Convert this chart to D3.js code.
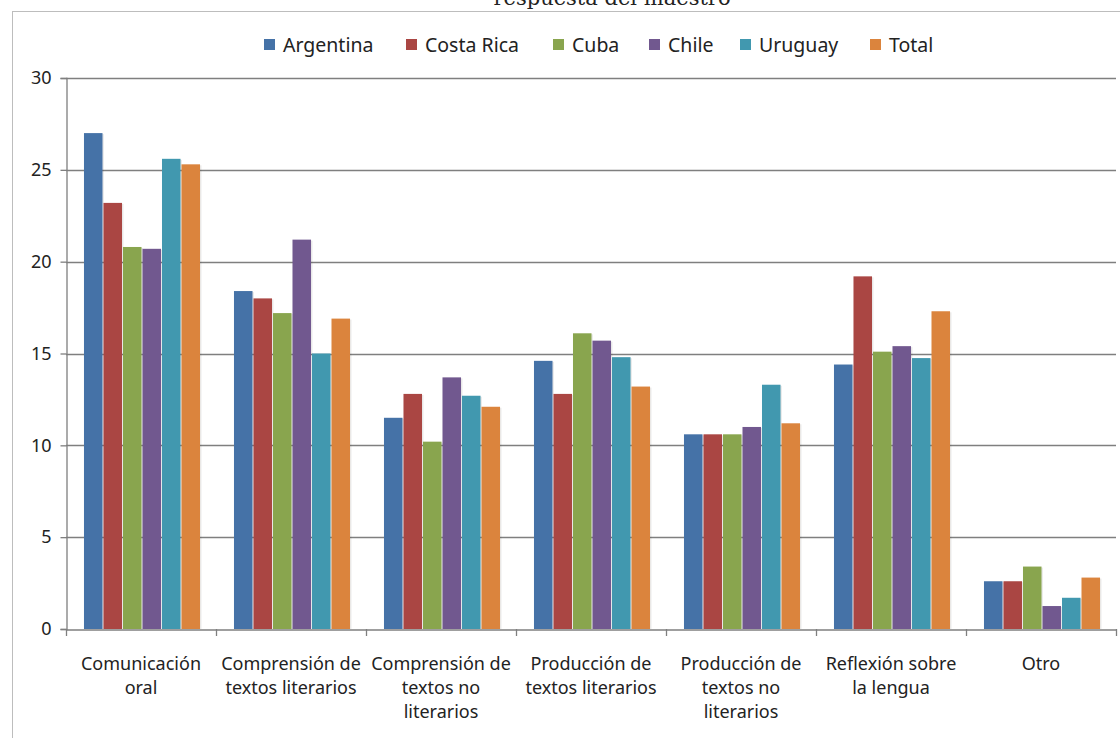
<!DOCTYPE html>
<html><head><meta charset="utf-8">
<script src="https://cdn.jsdelivr.net/npm/d3@7"></script>
<style>body{margin:0;background:#fff}svg{display:block}</style>
</head><body>
<svg id="c" width="1120" height="738"></svg>
<script>
const categories = [
  ["Comunicación","oral"],
  ["Comprensión de","textos literarios"],
  ["Comprensión de","textos no","literarios"],
  ["Producción de","textos literarios"],
  ["Producción de","textos no","literarios"],
  ["Reflexión sobre","la lengua"],
  ["Otro"]
];
const seriesNames = ["Argentina","Costa Rica","Cuba","Chile","Uruguay","Total"];
const argentina = [27.0, 18.4, 11.5, 14.6, 10.6, 14.4, 2.6];
const costaRica = [23.2, 18.0, 12.8, 12.8, 10.6, 19.2, 2.6];
const cuba      = [20.8, 17.2, 10.2, 16.1, 10.6, 15.1, 3.4];
const chile     = [20.7, 21.2, 13.7, 15.7, 11.0, 15.4, 1.25];
const uruguay   = [25.6, 15.0, 12.7, 14.8, 13.3, 14.75, 1.7];
const total     = [25.3, 16.9, 12.1, 13.2, 11.2, 17.3, 2.8];
const yTicks = [0,5,10,15,20,25,30];
const colors = ["#4572A7","#AA4643","#89A54E","#71588F","#4198AF","#DB843D"];
const title = "respuesta del maestro";

const seriesValues = [argentina,costaRica,cuba,chile,uruguay,total];
const svg = d3.select("#c");
const font = "'Noto Sans', 'Open Sans', sans-serif";

// frame
svg.append("rect").attr("x",12.5).attr("y",11.5).attr("width",1130).attr("height",740)
  .attr("fill","none").attr("stroke","#bdbdbd").attr("stroke-width",1);

// title (cut off at top, as in the reference)
svg.append("text").attr("x",612).attr("y",5).attr("text-anchor","middle")
  .attr("font-family","'DejaVu Serif', 'Liberation Serif', serif").attr("font-size",21)
  .attr("fill","#222").text(title);

const x0 = d3.scaleBand().domain(d3.range(categories.length)).range([66,1116]).paddingInner(0).paddingOuter(0);
const x1 = d3.scaleBand().domain(d3.range(seriesNames.length)).range([17, 150-15]).padding(0.05);
const y = d3.scaleLinear().domain([0,30]).range([629,78]);

// gridlines
svg.append("g").selectAll("line").data(yTicks.filter(d=>d>0)).join("line")
  .attr("x1",66).attr("x2",1116).attr("y1",d=>Math.round(y(d))+0.5).attr("y2",d=>Math.round(y(d))+0.5)
  .attr("stroke","#7f7f7f").attr("stroke-width",1.3);

// y axis
const yAxis = d3.axisLeft(y).tickValues(yTicks).tickSize(6).tickPadding(9);
const gy = svg.append("g").attr("transform","translate(66.5,0)").call(yAxis);
gy.select(".domain").attr("stroke","#7f7f7f").attr("stroke-width",1.3);
gy.selectAll(".tick line").attr("stroke","#7f7f7f").attr("stroke-width",1.3);
gy.selectAll(".tick text").attr("font-family",font).attr("font-size",18).attr("fill","#222");

// bars
const groups = svg.append("g").selectAll("g").data(categories).join("g")
  .attr("transform",(d,i)=>`translate(${x0(i)},0)`);
groups.each(function(c,ci){
  const g = d3.select(this);
  seriesValues.forEach((vals,si)=>{
    g.append("rect").attr("x",x1(si)+1.5).attr("y",y(vals[ci])+1)
      .attr("width",x1.bandwidth()).attr("height",y(0)-y(vals[ci])-1)
      .attr("fill","#000").attr("opacity",0.08);
    g.append("rect").attr("x",x1(si)).attr("y",y(vals[ci]))
      .attr("width",x1.bandwidth()).attr("height",y(0)-y(vals[ci]))
      .attr("fill",colors[si]);
  });
});

// x axis
const xAxis = d3.axisBottom(x0).tickSize(0).tickFormat("");
const gx = svg.append("g").attr("transform","translate(0,629.5)").call(xAxis);
gx.select(".domain").attr("stroke","#7f7f7f").attr("stroke-width",1.3);
svg.append("g").selectAll("line").data(d3.range(categories.length+1)).join("line")
  .attr("x1",i=>Math.round(66+i*x0.step())+0.5).attr("x2",i=>Math.round(66+i*x0.step())+0.5)
  .attr("y1",629).attr("y2",636).attr("stroke","#7f7f7f").attr("stroke-width",1.3);

// category labels
const lab = svg.append("g").selectAll("text").data(categories).join("text")
  .attr("font-family",font).attr("font-size",18).attr("fill","#222").attr("text-anchor","middle");
lab.each(function(lines,i){
  const t = d3.select(this);
  lines.forEach((ln,k)=>{
    t.append("tspan").attr("x",x0(i)+x0.bandwidth()/2).attr("y",670+k*24).text(ln);
  });
});

// legend
const legendX = [264,406,553,649,740,870];
const lg = svg.append("g").selectAll("g").data(seriesNames).join("g")
  .attr("transform",(d,i)=>`translate(${legendX[i]},0)`);
lg.append("rect").attr("x",0).attr("y",39).attr("width",11).attr("height",11).attr("fill",(d,i)=>colors[i]);
lg.append("text").attr("x",19).attr("y",51.5).attr("font-family",font).attr("font-size",19.5)
  .attr("fill","#222").text(d=>d);
</script>
</body></html>
